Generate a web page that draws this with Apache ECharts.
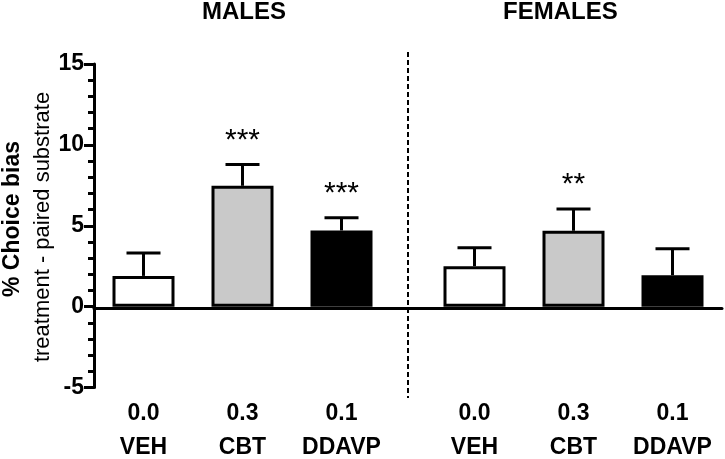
<!DOCTYPE html>
<html>
<head>
<meta charset="utf-8">
<script src="https://cdn.jsdelivr.net/npm/echarts@6/dist/echarts.min.js"></script>
<style>
  html, body { margin: 0; padding: 0; background: #fff; }
  #chart { width: 725px; height: 459px; }
</style>
</head>
<body>
<div id="chart"></div>
<script>
// data
const groups = ['VEH', 'CBT', 'DDAVP']
const doses = ['0.0', '0.3', '0.1']
const malesMean = [1.9, 7.47, 4.71]
const malesSem = [1.42, 1.32, 0.78]
const malesStars = ['', '***', '***']
const femalesMean = [2.5, 4.69, 1.94]
const femalesSem = [1.14, 1.35, 1.64]
const femalesStars = ['', '**', '']
const yTicks = { min: -5, max: 15, interval: 5 }

const fills = ['#ffffff', '#c9c9c9', '#000000']
const FONT = 'Liberation Sans, Arial, sans-serif'
const NARROW = 'Liberation Sans Narrow, Arial Narrow, Liberation Sans, sans-serif'

const chart = echarts.init(document.getElementById('chart'))

const barData = (means) => means.map((v, i) => ({
  value: v,
  itemStyle: { color: fills[i], borderColor: '#000', borderWidth: 3 }
}))

// upper error bar + significance stars
const errSeries = (means, sems, stars, idx) => ({
  type: 'custom',
  xAxisIndex: idx,
  yAxisIndex: idx,
  z: 5,
  data: means.map((m, i) => [i, m, sems[i]]),
  renderItem: (params, api) => {
    const x = api.value(0)
    const m = api.value(1)
    const s = api.value(2)
    const base = api.coord([x, m])
    const top = api.coord([x, m + s])
    const half = 17
    return {
      type: 'group',
      children: [
        { type: 'line', shape: { x1: base[0], y1: base[1], x2: top[0], y2: top[1] },
          style: { stroke: '#000', lineWidth: 3 } },
        { type: 'line', shape: { x1: top[0] - half, y1: top[1], x2: top[0] + half, y2: top[1] },
          style: { stroke: '#000', lineWidth: 3 } },
        { type: 'text', x: top[0], y: top[1] - 24,
          style: { text: stars[params.dataIndex], align: 'center', verticalAlign: 'middle',
            fontSize: 30, fontFamily: FONT, fill: '#000' } }
      ]
    }
  }
})

const catAxis = (idx) => ({
  type: 'category',
  gridIndex: idx,
  data: groups,
  axisLine: { show: false, onZero: false },
  axisTick: { show: false },
  axisLabel: {
    margin: 3,
    formatter: (v, i) => '{d|' + doses[i] + '}\n{n|' + v + '}',
    rich: {
      d: { fontSize: 23, fontWeight: 'bold', fontFamily: FONT, color: '#000', lineHeight: 46 },
      n: { fontSize: 23, fontWeight: 'bold', fontFamily: NARROW, color: '#000', lineHeight: 22 }
    }
  }
})

chart.setOption({
  animation: false,
  title: [
    { text: 'MALES', left: 202, top: 0, padding: 0,
      textStyle: { fontSize: 24, fontWeight: 'bold', fontFamily: FONT, color: '#000', lineHeight: 24 } },
    { text: 'FEMALES', left: 503, top: 0, padding: 0,
      textStyle: { fontSize: 24, fontWeight: 'bold', fontFamily: FONT, color: '#000', lineHeight: 24 } }
  ],
  grid: [
    { left: 94, width: 297, top: 64, bottom: 69 },
    { left: 425, right: 3, top: 64, bottom: 69 },
    { left: 94, right: 3, top: 64, bottom: 69 }
  ],
  xAxis: [
    catAxis(0),
    catAxis(1),
    {
      // continuous zero line across both panels
      type: 'category',
      gridIndex: 2,
      data: [''],
      axisLine: { lineStyle: { color: '#000', width: 3 } },
      axisTick: { show: false },
      axisLabel: { show: false }
    }
  ],
  yAxis: [
    {
      type: 'value',
      gridIndex: 0,
      min: yTicks.min,
      max: yTicks.max,
      interval: yTicks.interval,
      axisLine: { show: true, lineStyle: { color: '#000', width: 3 } },
      axisTick: { show: true, length: 10, lineStyle: { color: '#000', width: 3 } },
      minorTick: { show: true, splitNumber: 5, length: 6, lineStyle: { color: '#000', width: 3 } },
      axisLabel: { margin: 10, fontSize: 23, fontWeight: 'bold', fontFamily: FONT, color: '#000' },
      splitLine: { show: false }
    },
    {
      type: 'value', gridIndex: 1, min: yTicks.min, max: yTicks.max, interval: yTicks.interval,
      axisLine: { show: false }, axisTick: { show: false }, axisLabel: { show: false }, splitLine: { show: false }
    },
    {
      type: 'value', gridIndex: 2, min: yTicks.min, max: yTicks.max, interval: yTicks.interval,
      axisLine: { show: false }, axisTick: { show: false }, axisLabel: { show: false }, splitLine: { show: false }
    }
  ],
  graphic: [
    {
      type: 'line',
      shape: { x1: 408, y1: 52, x2: 408, y2: 398 },
      style: { stroke: '#000', lineWidth: 2, lineDash: [5, 3] }
    },
    {
      type: 'text', x: 13, y: 219, rotation: Math.PI / 2,
      style: { text: '% Choice bias', align: 'center', verticalAlign: 'middle',
        fontSize: 23, fontWeight: 'bold', fontFamily: NARROW, fill: '#000' }
    },
    {
      type: 'text', x: 43, y: 227, rotation: Math.PI / 2,
      style: { text: 'treatment - paired substrate', align: 'center', verticalAlign: 'middle',
        fontSize: 22, fontFamily: FONT, fill: '#000' }
    }
  ],
  series: [
    { type: 'bar', xAxisIndex: 0, yAxisIndex: 0, barWidth: 62, data: barData(malesMean) },
    { type: 'bar', xAxisIndex: 1, yAxisIndex: 1, barWidth: 62, data: barData(femalesMean) },
    errSeries(malesMean, malesSem, malesStars, 0),
    errSeries(femalesMean, femalesSem, femalesStars, 1)
  ]
})
</script>
</body>
</html>
